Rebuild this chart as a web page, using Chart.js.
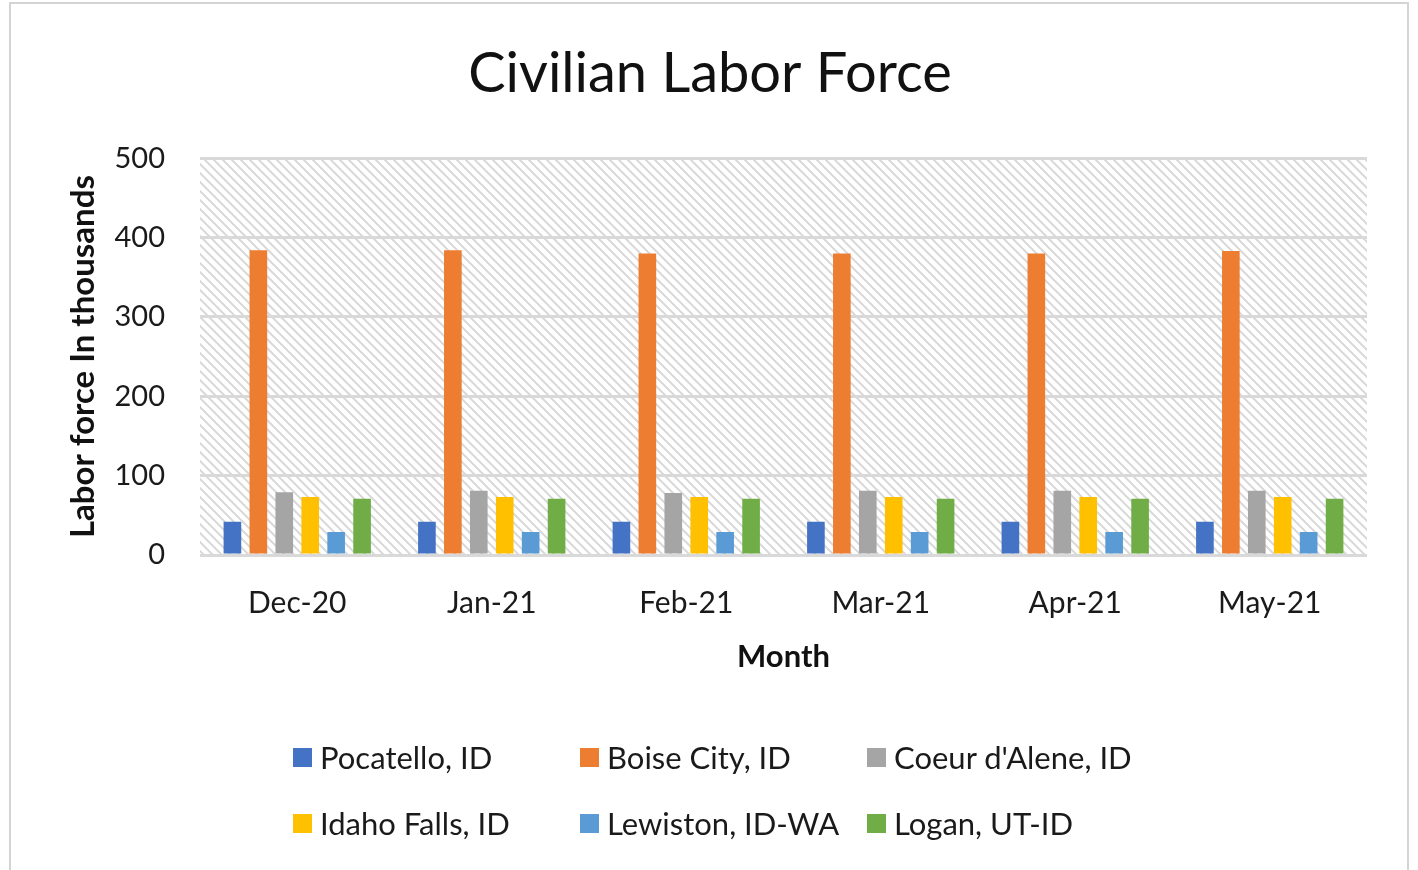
<!DOCTYPE html>
<html>
<head>
<meta charset="utf-8">
<script src="https://cdn.jsdelivr.net/npm/chart.js@4.4.1/dist/chart.umd.min.js"></script>
<style>
  html, body { margin: 0; padding: 0; background: #fff; }
  #wrap { position: relative; width: 1418px; height: 870px; overflow: hidden; }
  #frame { position: absolute; left: 9px; top: 2px; width: 1400px; height: 900px; border: 2px solid #d4d4d4; box-sizing: border-box; }
  #graph { position: absolute; left: 0; top: 0; }
  #legend { position: absolute; left: 293px; top: 738px; display: grid; grid-template-columns: 287px 287px 287px; grid-auto-rows: 66px; font-family: Lato, sans-serif; font-size: 31px; color: #1a1a1a; }
  .item { display: flex; align-items: center; height: 38px; }
  .box { width: 19px; height: 19px; margin-right: 8px; flex: none; }
</style>
</head>
<body>
<div id="wrap">
  <div id="frame"></div>
  <canvas id="graph" width="1418" height="870"></canvas>
  <div id="legend"></div>
</div>
<script>
const months = ["Dec-20", "Jan-21", "Feb-21", "Mar-21", "Apr-21", "May-21"];
const seriesNames = ["Pocatello, ID", "Boise City, ID", "Coeur d'Alene, ID", "Idaho Falls, ID", "Lewiston, ID-WA", "Logan, UT-ID"];
const seriesColors = ["#4472C4", "#ED7D31", "#A5A5A5", "#FFC000", "#5B9BD5", "#70AD47"];

const pocatello = [42, 42, 42, 42, 42, 42];
const boise = [384, 384, 380, 380, 380, 383];
const coeurDAlene = [79, 81, 78, 81, 81, 81];
const idahoFalls = [73, 73, 73, 73, 73, 73];
const lewiston = [29, 29, 29, 29, 29, 29];
const logan = [71, 71, 71, 71, 71, 71];

const yTicks = [0, 100, 200, 300, 400, 500];

const seriesValues = [pocatello, boise, coeurDAlene, idahoFalls, lewiston, logan];

// diagonal hatch used behind the bars
function makeHatch(){
    const s = 9;
    const c = document.createElement("canvas");
    c.width = s;
    c.height = s;
    const g = c.getContext("2d");
    g.strokeStyle = "#d9d9d9";
    g.lineWidth = 2;
    for (let k = -1; k <= 1; k++){
        g.beginPath();
        g.moveTo(-1, -1 + k * s);
        g.lineTo(s + 1, s + 1 + k * s);
        g.stroke();
    }
    return g.createPattern(c, "repeat");
}

const hatchBackground = {
    id: "hatchBackground",
    beforeDraw(chart){
        const {ctx, chartArea} = chart;
        ctx.save();
        ctx.fillStyle = makeHatch();
        ctx.fillRect(chartArea.left, chartArea.top, chartArea.right - chartArea.left, chartArea.bottom - chartArea.top);
        ctx.restore();
    }
};

const ctx = document.getElementById("graph");
const chart = new Chart(ctx, {
    type: "bar",
    data: {
        labels: months,
        datasets: seriesNames.map((name, i) => ({
            label: name,
            data: seriesValues[i],
            backgroundColor: seriesColors[i],
            borderWidth: 0,
            categoryPercentage: 0.8,
            barPercentage: 0.68
        }))
    },
    options: {
        responsive: false,
        animation: false,
        layout: {
            padding: { left: 10, right: 8, top: 0, bottom: 194 }
        },
        plugins: {
            legend: { display: false },
            tooltip: { enabled: false },
            title: {
                display: true,
                text: "Civilian Labor Force",
                color: "#111",
                font: { family: "Lato", size: 56, weight: "normal", lineHeight: 1.2 },
                padding: { top: 40, bottom: 51 }
            }
        },
        scales: {
            x: {
                afterFit(scale){
                    scale.height = 121;
                },
                grid: { display: false, drawTicks: false },
                border: { display: false },
                ticks: {
                    color: "#1a1a1a",
                    padding: 30,
                    font: { family: "Lato", size: 30 }
                },
                title: {
                    display: true,
                    text: "Month",
                    color: "#111",
                    font: { family: "Lato", size: 31, weight: "bold" },
                    padding: { top: 19, bottom: 0 }
                }
            },
            y: {
                min: 0,
                max: 500,
                afterBuildTicks(scale){
                    scale.ticks = yTicks.map(v => ({ value: v }));
                },
                afterFit(scale){
                    scale.width = 190;
                },
                grid: { color: "#d9d9d9", lineWidth: 3, drawTicks: false },
                border: { display: false },
                ticks: {
                    color: "#1a1a1a",
                    padding: 35,
                    font: { family: "Lato", size: 29 }
                },
                title: {
                    display: true,
                    text: "Labor force In thousands",
                    color: "#111",
                    font: { family: "Lato", size: 33, weight: "bold" },
                    padding: { top: 54, bottom: 0 }
                }
            },
            // empty right-hand space so the plot ends where the original does
            yRight: {
                position: "right",
                afterFit(scale){
                    scale.width = 43;
                },
                grid: { display: false, drawTicks: false },
                border: { display: false },
                ticks: { display: false }
            }
        }
    },
    plugins: [hatchBackground]
});

function buildLegend(){
    const legend = document.getElementById("legend");
    legend.innerHTML = chart.data.datasets.map(d => `<div class="item">
        <span class="box" style="background:${d.backgroundColor}"></span><span>${d.label}</span>
    </div>`).join("");
}

buildLegend();
</script>
</body>
</html>
